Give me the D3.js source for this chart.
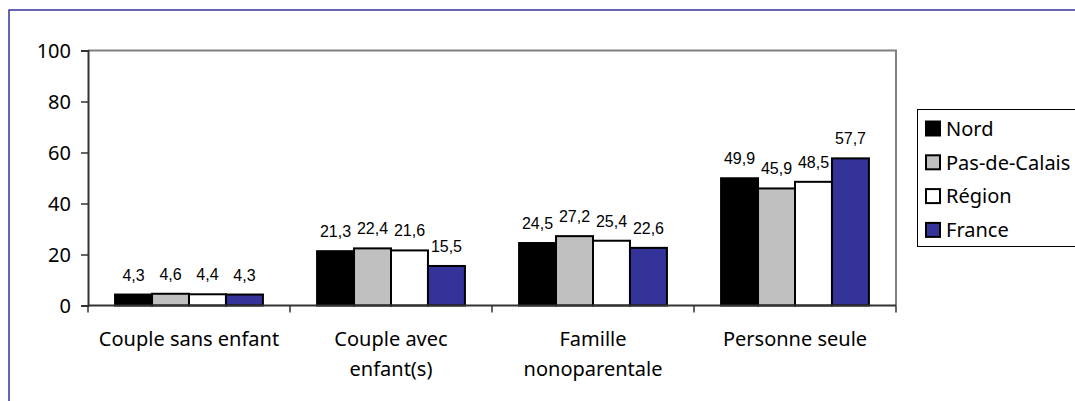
<!DOCTYPE html>
<html>
<head>
<meta charset="utf-8">
<script src="https://cdn.jsdelivr.net/npm/d3@7"></script>
<style>
  body { margin: 0; background: #fff; }
  svg { display: block; }
  .axis text { font-family: "Noto Sans", sans-serif; font-size: 20px; fill: #000; }
  .val { font-family: "Liberation Sans", Arial, sans-serif; font-size: 16px; fill: #000; }
</style>
</head>
<body>
<svg id="chart" width="1075" height="401"></svg>
<script>
const categories = [['Couple sans enfant'], ['Couple avec', 'enfant(s)'], ['Famille', 'nonoparentale'], ['Personne seule']];
const seriesNames = ['Nord', 'Pas-de-Calais', 'Région', 'France'];
const seriesColors = ['#000000', '#c0c0c0', '#ffffff', '#333399'];
const values = [
	[4.3, 21.3, 24.5, 49.9],   // Nord
	[4.6, 22.4, 27.2, 45.9],   // Pas-de-Calais
	[4.4, 21.6, 25.4, 48.5],   // Région
	[4.3, 15.5, 22.6, 57.7]    // France
];
const yTicks = [0, 20, 40, 60, 80, 100];

const svg = d3.select('#chart');
const margin = { top: 50.5, left: 88, right: 179, bottom: 95.5 },
	width = 1075 - margin.left - margin.right,
	height = 401 - margin.top - margin.bottom;

// outer frame (only top and left edges are visible in the picture)
svg.append('path')
	.attr('d', 'M9,401V10H1075')
	.attr('fill', 'none')
	.attr('stroke', '#333399')
	.attr('stroke-width', 1.5);

const g = svg.append('g').attr('transform', `translate(${margin.left},${margin.top})`);

const x0 = d3.scaleBand().domain(d3.range(categories.length)).range([0, width]);
const x1 = d3.scaleBand().domain(d3.range(seriesNames.length))
	.range([x0.bandwidth() * 0.134, x0.bandwidth() * 0.866]);
const y = d3.scaleLinear().domain([0, 100]).range([height, 0]);

// plot area border: grey top and right
g.append('path')
	.attr('d', `M0,0H${width}V${height}`)
	.attr('fill', 'none')
	.attr('stroke', '#808080')
	.attr('stroke-width', 2);

// bars
seriesNames.forEach((name, s) => {
	g.append('g').selectAll('rect')
		.data(values[s])
		.join('rect')
		.attr('x', (d, i) => x0(i) + x1(s))
		.attr('y', d => y(d))
		.attr('width', x1.bandwidth())
		.attr('height', d => y(0) - y(d))
		.attr('fill', seriesColors[s])
		.attr('stroke', '#000')
		.attr('stroke-width', 2);

	g.append('g').selectAll('text')
		.data(values[s])
		.join('text')
		.attr('class', 'val')
		.attr('x', (d, i) => x0(i) + x1(s) + x1.bandwidth() / 2)
		.attr('y', d => y(d) - 14)
		.attr('text-anchor', 'middle')
		.text(d => String(d).replace('.', ','));
});

// y axis
const yAxis = g.append('g').attr('class', 'axis')
	.call(d3.axisLeft(y).tickValues(yTicks).tickSize(7).tickPadding(10));
yAxis.select('.domain').attr('stroke', '#333').attr('stroke-width', 2);
yAxis.selectAll('.tick line').attr('stroke', '#333').attr('stroke-width', 1.5);
yAxis.selectAll('.tick text').attr('dy', '0.36em');

// x axis
const xAxis = g.append('g').attr('class', 'axis')
	.attr('transform', `translate(0,${height})`);
xAxis.append('line')
	.attr('x1', 0).attr('x2', width)
	.attr('stroke', '#333').attr('stroke-width', 2);
xAxis.selectAll('.cat-tick')
	.data(d3.range(categories.length + 1))
	.join('line')
	.attr('x1', i => i < categories.length ? x0(i) : width)
	.attr('x2', i => i < categories.length ? x0(i) : width)
	.attr('y1', 0).attr('y2', 7)
	.attr('stroke', '#333').attr('stroke-width', 1.5);
xAxis.selectAll('.cat')
	.data(categories)
	.join('text')
	.attr('text-anchor', 'middle')
	.attr('transform', (d, i) => `translate(${x0(i) + x0.bandwidth() / 2},40)`)
	.each(function (lines) {
		d3.select(this).selectAll('tspan')
			.data(lines)
			.join('tspan')
			.attr('x', 0)
			.attr('y', (l, k) => k * 30)
			.text(l => l);
	});

// legend
const legend = svg.append('g').attr('class', 'axis').attr('transform', 'translate(917,109)');
legend.append('rect')
	.attr('x', 0.5).attr('y', 0.5)
	.attr('width', 200).attr('height', 137)
	.attr('fill', '#fff')
	.attr('stroke', '#000')
	.attr('stroke-width', 1);
const items = legend.selectAll('.item')
	.data(seriesNames)
	.join('g')
	.attr('transform', (d, i) => `translate(0,${19.5 + i * 33.8})`);
items.append('rect')
	.attr('x', 9).attr('y', -7)
	.attr('width', 14).attr('height', 14)
	.attr('fill', (d, i) => seriesColors[i])
	.attr('stroke', '#000')
	.attr('stroke-width', 2);
items.append('text')
	.attr('x', 29)
	.attr('dy', '0.36em')
	.text(d => d);
</script>
</body>
</html>
